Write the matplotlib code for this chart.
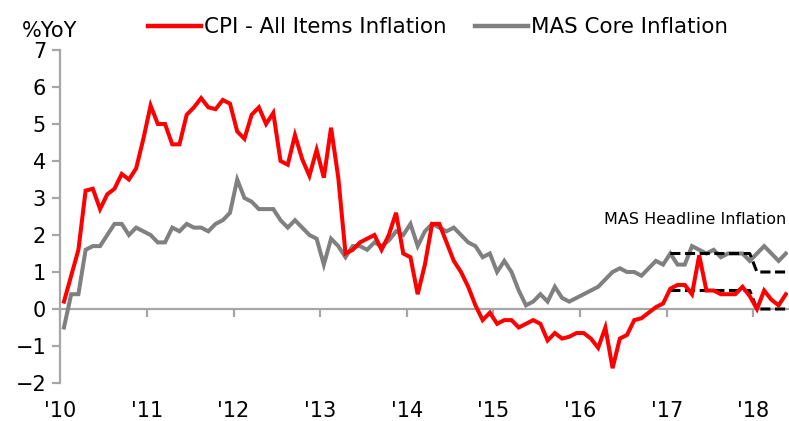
import numpy as np
import matplotlib
matplotlib.use("Agg")
import matplotlib.pyplot as plt
from matplotlib.lines import Line2D

# monthly %YoY, Jan 2010 - May 2018
cpi = [0.2, 0.9, 1.6, 3.2, 3.25, 2.7, 3.1, 3.25, 3.65, 3.5, 3.8, 4.6,
       5.5, 5.0, 5.0, 4.45, 4.45, 5.25, 5.45, 5.7, 5.45, 5.4, 5.65, 5.55,
       4.8, 4.6, 5.25, 5.45, 5.0, 5.3, 4.0, 3.9, 4.7, 4.05, 3.6, 4.3,
       3.55, 4.9, 3.55, 1.5, 1.6, 1.8, 1.9, 2.0, 1.6, 2.0, 2.6, 1.5,
       1.4, 0.4, 1.2, 2.3, 2.3, 1.8, 1.3, 1.0, 0.6, 0.1, -0.3, -0.1,
       -0.4, -0.3, -0.3, -0.5, -0.4, -0.3, -0.4, -0.85, -0.65, -0.8, -0.75, -0.65,
       -0.65, -0.8, -1.05, -0.5, -1.6, -0.8, -0.7, -0.3, -0.25, -0.1, 0.05, 0.15,
       0.55, 0.65, 0.65, 0.4, 1.45, 0.5, 0.5, 0.4, 0.4, 0.4, 0.6, 0.35,
       0.0, 0.5, 0.25, 0.1, 0.4]

core = [-0.5, 0.4, 0.4, 1.6, 1.7, 1.7, 2.0, 2.3, 2.3, 2.0, 2.2, 2.1,
        2.0, 1.8, 1.8, 2.2, 2.1, 2.3, 2.2, 2.2, 2.1, 2.3, 2.4, 2.6,
        3.5, 3.0, 2.9, 2.7, 2.7, 2.7, 2.4, 2.2, 2.4, 2.2, 2.0, 1.9,
        1.2, 1.9, 1.7, 1.4, 1.7, 1.7, 1.6, 1.8, 1.7, 1.85, 2.1, 2.0,
        2.3, 1.7, 2.1, 2.3, 2.2, 2.1, 2.2, 2.0, 1.8, 1.7, 1.4, 1.5,
        1.0, 1.3, 1.0, 0.5, 0.1, 0.2, 0.4, 0.2, 0.6, 0.3, 0.2, 0.3,
        0.4, 0.5, 0.6, 0.8, 1.0, 1.1, 1.0, 1.0, 0.9, 1.1, 1.3, 1.2,
        1.5, 1.2, 1.2, 1.7, 1.6, 1.5, 1.6, 1.4, 1.5, 1.5, 1.5, 1.3,
        1.5, 1.7, 1.5, 1.3, 1.5]

# MAS headline forecast band, Jan 2017 - May 2018
band_start = 84
band_hi = [1.5, 1.5, 1.5, 1.5, 1.5, 1.5, 1.5, 1.5, 1.5, 1.5, 1.5, 1.5,
           1.0, 1.0, 1.0, 1.0, 1.0]
band_lo = [0.5, 0.5, 0.5, 0.5, 0.5, 0.5, 0.5, 0.5, 0.5, 0.5, 0.5, 0.5,
           0.0, 0.0, 0.0, 0.0, 0.0]

years = ["'10", "'11", "'12", "'13", "'14", "'15", "'16", "'17", "'18"]

RED = "#ff0000"
GREY = "#808080"
AXIS = "#a6a6a6"

plt.rcParams["font.family"] = "DejaVu Sans"

fig = plt.figure(figsize=(7.89, 4.21), dpi=100)
ax = fig.add_axes([60 / 789, 1 - 383 / 421, 728 / 789, 333 / 421])

x = np.arange(len(cpi))
xb = np.arange(band_start, band_start + len(band_hi))

ax.plot(x, core, color=GREY, lw=2.9, solid_joinstyle="miter", zorder=3)
ax.plot(xb, band_hi, color="black", lw=2.2, ls=(0, (3.3, 1.5)), zorder=4)
ax.plot(xb, band_lo, color="black", lw=2.2, ls=(0, (3.3, 1.5)), zorder=4)
ax.plot(x, cpi, color=RED, lw=2.9, solid_joinstyle="miter", zorder=5)

ax.set_xlim(-0.55, 100.3)
ax.set_ylim(-2, 7)
ax.set_yticks(range(-2, 8))

for s in ["top", "right"]:
    ax.spines[s].set_visible(False)
ax.spines["left"].set_color(AXIS)
ax.spines["left"].set_linewidth(1.6)
ax.spines["bottom"].set_position(("data", 0))
ax.spines["bottom"].set_color(AXIS)
ax.spines["bottom"].set_linewidth(1.6)

ticks = [12 * k - 0.5 for k in range(len(years))]
ax.set_xticks(ticks)
ax.tick_params(axis="x", direction="out", length=6, width=1.6, color=AXIS,
               labelbottom=False)
ax.tick_params(axis="y", direction="out", length=6, width=1.6, color=AXIS,
               labelsize=15, pad=4)

sec = ax.secondary_xaxis("bottom")
sec.set_xticks(ticks, years)
sec.tick_params(length=0, labelsize=15, pad=13)
sec.spines["bottom"].set_visible(False)

fig.text(22 / 789, 1 - 31 / 421, "%YoY", fontsize=15, ha="left", va="center")

ax.text(0.998, 2.42, "MAS Headline Inflation", fontsize=11.5, ha="right",
        va="center", transform=ax.get_yaxis_transform())

handles = [Line2D([], [], color=RED, lw=3.2),
           Line2D([], [], color=GREY, lw=3.2)]
fig.legend(handles, ["CPI - All Items Inflation", "MAS Core Inflation"],
           loc="center", bbox_to_anchor=(438 / 789, 1 - 27 / 421), ncol=2,
           frameon=False, fontsize=15.4, handlelength=2.5, handletextpad=0.15,
           columnspacing=1.3, borderpad=0)

fig.savefig("out.png", dpi=100)
